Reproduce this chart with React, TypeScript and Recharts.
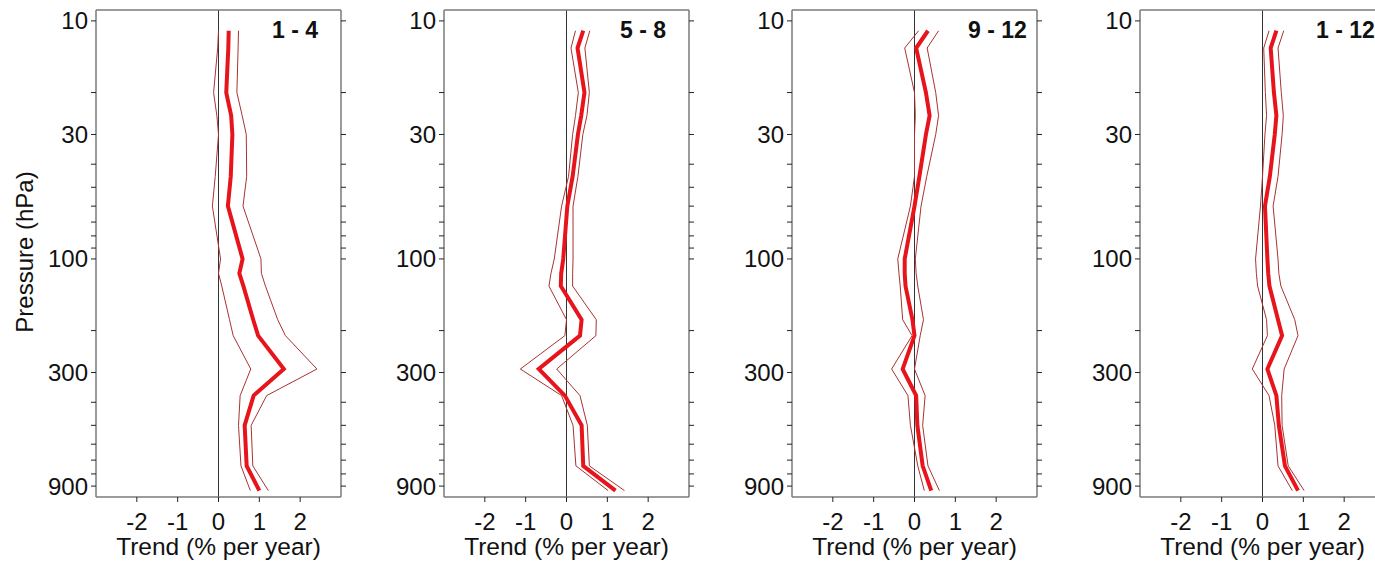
import { LineChart, Line, XAxis, YAxis, ReferenceLine } from "recharts";

// pressure levels (hPa) shared by every profile, top to bottom
const PRESSURE = [11, 13, 20, 25, 30, 45, 60, 100, 115, 130, 180, 210, 290, 375, 500, 740, 940];

const MID_1_4 = [0.25, 0.24, 0.19, 0.31, 0.34, 0.3, 0.23, 0.59, 0.51, 0.61, 0.85, 0.97, 1.6, 0.86, 0.64, 0.69, 1.0];
const HI_1_4 = [0.49, 0.48, 0.45, 0.58, 0.68, 0.69, 0.6, 1.04, 1.05, 1.15, 1.45, 1.64, 2.41, 1.18, 0.8, 0.84, 1.22];
const LO_1_4 = [0.0, -0.02, -0.12, -0.04, 0.0, -0.08, -0.15, 0.05, 0.0, 0.08, 0.27, 0.36, 0.79, 0.53, 0.49, 0.55, 0.78];

const MID_5_8 = [0.41, 0.27, 0.44, 0.36, 0.28, 0.15, 0.02, -0.08, -0.13, -0.14, 0.37, 0.33, -0.68, -0.04, 0.37, 0.41, 1.2];
const HI_5_8 = [0.57, 0.45, 0.56, 0.5, 0.4, 0.28, 0.16, 0.16, 0.15, 0.15, 0.73, 0.72, -0.24, 0.33, 0.51, 0.56, 1.42];
const LO_5_8 = [0.22, 0.11, 0.29, 0.22, 0.15, 0.05, -0.12, -0.3, -0.38, -0.43, 0.0, -0.04, -1.13, -0.12, 0.16, 0.23, 1.02];

const MID_9_12 = [0.33, 0.04, 0.28, 0.37, 0.28, 0.12, 0.0, -0.24, -0.24, -0.22, -0.05, 0.0, -0.29, 0.04, 0.07, 0.2, 0.41];
const HI_9_12 = [0.59, 0.31, 0.52, 0.59, 0.52, 0.3, 0.16, 0.02, 0.04, 0.08, 0.22, 0.14, 0.0, 0.26, 0.2, 0.33, 0.61];
const LO_9_12 = [0.1, -0.24, 0.0, 0.02, 0.0, 0.0, -0.1, -0.41, -0.38, -0.35, -0.29, -0.06, -0.56, -0.16, -0.1, 0.08, 0.24];

const MID_1_12 = [0.34, 0.2, 0.28, 0.34, 0.3, 0.18, 0.06, 0.12, 0.14, 0.17, 0.38, 0.48, 0.12, 0.34, 0.4, 0.55, 0.87];
const HI_1_12 = [0.52, 0.38, 0.46, 0.51, 0.48, 0.38, 0.26, 0.38, 0.4, 0.45, 0.79, 0.87, 0.53, 0.47, 0.48, 0.63, 1.02];
const LO_1_12 = [0.16, 0.03, 0.07, 0.1, 0.06, 0.0, -0.05, -0.17, -0.15, -0.12, 0.1, 0.12, -0.25, 0.16, 0.3, 0.38, 0.73];

const PANEL_TITLES = ["1 - 4", "5 - 8", "9 - 12", "1 - 12"];

const X_TICKS = [-2, -1, 0, 1, 2];
const Y_TICKS = [10, 20, 30, 40, 50, 60, 70, 80, 90, 100, 200, 300, 400, 500, 600, 700, 800, 900];
const Y_LABELED = [10, 30, 100, 300, 900];

const FONT = "'Liberation Sans', Arial, sans-serif";
const FRAME = "#7a7a7a";
const TICK = "#222";
const RED = "#e8141c";
const DARK_RED = "#a83232";

const PANEL_W = 348;
const PANEL_H = 565;

const panels = [
  { title: PANEL_TITLES[0], mid: MID_1_4, hi: HI_1_4, lo: LO_1_4 },
  { title: PANEL_TITLES[1], mid: MID_5_8, hi: HI_5_8, lo: LO_5_8 },
  { title: PANEL_TITLES[2], mid: MID_9_12, hi: HI_9_12, lo: LO_9_12 },
  { title: PANEL_TITLES[3], mid: MID_1_12, hi: HI_1_12, lo: LO_1_12 },
];

const tickStyle = { fontFamily: FONT, fontSize: 24, fill: "#111" };
const noLabel = () => "";

function Profile({ title, mid, hi, lo }: { title: string; mid: number[]; hi: number[]; lo: number[] }) {
  const data = PRESSURE.map((p, i) => ({ p, lo: lo[i], mid: mid[i], hi: hi[i] }));
  return (
    <div style={{ position: "relative", width: PANEL_W, height: PANEL_H }}>
      <LineChart
        data={data}
        height={PANEL_H}
        layout="vertical"
        margin={{ top: 9, right: 6, bottom: 8, left: 36 }}
        width={PANEL_W}
      >
        <XAxis
          axisLine={{ stroke: FRAME, strokeWidth: 1.5 }}
          domain={[-3, 3]}
          height={60}
          label={{ value: "Trend (% per year)", position: "insideBottom", offset: 2, style: { ...tickStyle, fontSize: 24.5 } }}
          tick={tickStyle}
          tickLine={{ stroke: TICK }}
          tickMargin={11}
          tickSize={5}
          ticks={X_TICKS}
          type="number"
        />
        <XAxis
          axisLine={{ stroke: FRAME, strokeWidth: 1.5 }}
          domain={[-3, 3]}
          height={1}
          orientation="top"
          tick={tickStyle}
          tickFormatter={noLabel}
          tickLine={{ stroke: TICK }}
          tickSize={5}
          ticks={X_TICKS}
          type="number"
          xAxisId="top"
        />
        <YAxis
          allowDataOverflow
          axisLine={{ stroke: FRAME, strokeWidth: 1.5 }}
          dataKey="p"
          domain={[9, 1000]}
          interval={0}
          scale="log"
          tick={tickStyle}
          tickFormatter={(v: number) => (Y_LABELED.includes(v) ? String(v) : "")}
          tickLine={{ stroke: TICK }}
          tickMargin={3}
          tickSize={5}
          ticks={Y_TICKS}
          type="number"
          width={60}
        />
        <YAxis
          allowDataOverflow
          axisLine={{ stroke: FRAME, strokeWidth: 1.5 }}
          dataKey="p"
          domain={[9, 1000]}
          interval={0}
          orientation="right"
          scale="log"
          tick={tickStyle}
          tickFormatter={noLabel}
          tickLine={{ stroke: TICK }}
          tickSize={5}
          ticks={Y_TICKS}
          type="number"
          width={1}
          yAxisId="right"
        />
        <ReferenceLine stroke="#333" strokeWidth={1} x={0} />
        <Line dataKey="lo" dot={false} isAnimationActive={false} stroke={DARK_RED} strokeWidth={1} />
        <Line dataKey="hi" dot={false} isAnimationActive={false} stroke={DARK_RED} strokeWidth={1} />
        <Line dataKey="mid" dot={false} isAnimationActive={false} stroke={RED} strokeWidth={4} />
      </LineChart>
      <div
        style={{
          position: "absolute",
          left: 272,
          top: 19,
          fontFamily: FONT,
          fontSize: 23,
          fontWeight: 700,
          lineHeight: "23px",
          whiteSpace: "nowrap",
          color: "#111",
        }}
      >
        {title}
      </div>
    </div>
  );
}

export default function App() {
  return (
    <div style={{ position: "absolute", left: 0, top: 0, width: 1375, height: 565, overflow: "hidden", background: "#fff" }}>
      <div style={{ display: "flex", width: PANEL_W * 4 }}>
        {panels.map((panel) => (
          <Profile hi={panel.hi} key={panel.title} lo={panel.lo} mid={panel.mid} title={panel.title} />
        ))}
      </div>
      <div
        style={{
          position: "absolute",
          left: 25,
          top: 252,
          transform: "translate(-50%, -50%) rotate(-90deg)",
          fontFamily: FONT,
          fontSize: 24,
          lineHeight: "24px",
          whiteSpace: "nowrap",
          color: "#111",
        }}
      >
        Pressure (hPa)
      </div>
    </div>
  );
}
